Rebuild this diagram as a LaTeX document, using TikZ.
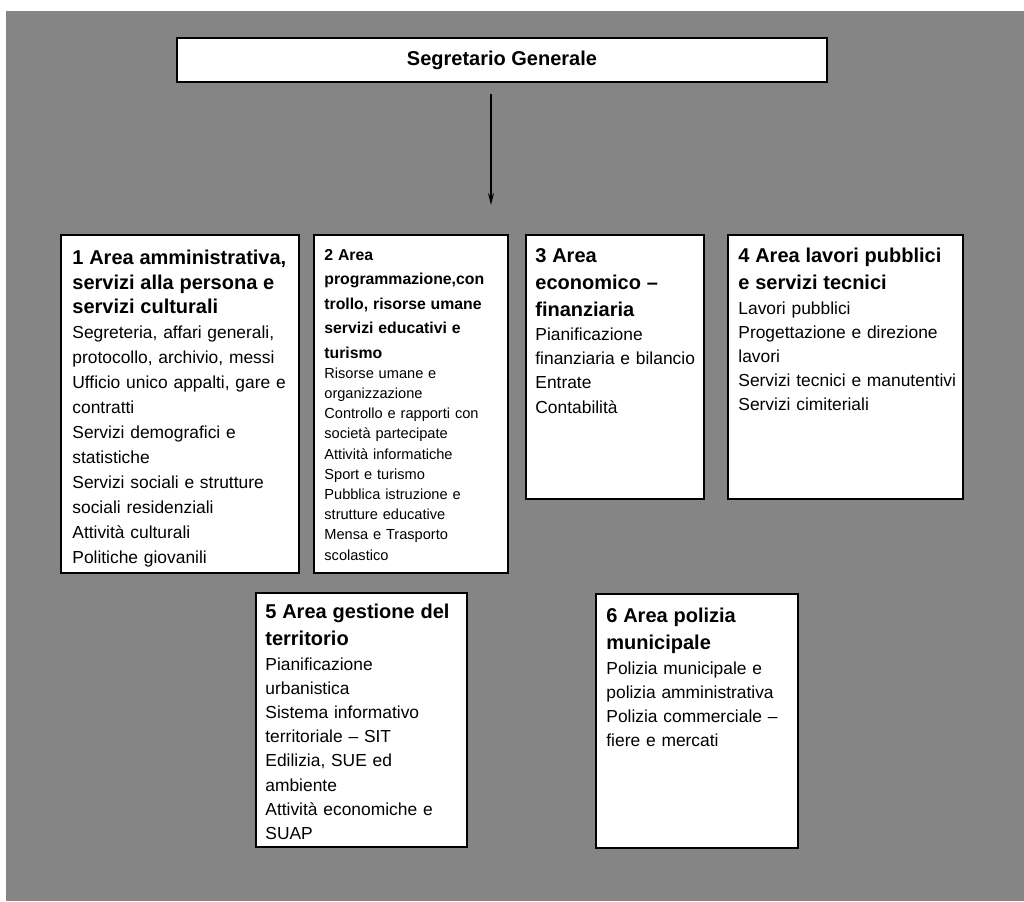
\documentclass[tikz,border=0pt]{standalone}
\usepackage{fontspec}
\setmainfont{Liberation Sans}
\usepackage{tikz}
\usetikzlibrary{positioning,arrows.meta,calc}
\definecolor{carta}{gray}{0.52}
\setlength{\parindent}{0pt}
\newcommand{\titolo}[2][13.5]{{\fontsize{10}{#1}\selectfont\bfseries #2\par}}

\begin{document}
\begin{tikzpicture}[x=0.5pt,y=-0.5pt,
  areabox/.style={draw, line width=1pt, fill=white, anchor=north west, inner sep=0pt},
  areatext/.style={anchor=north west, inner sep=0pt, align=left, text width=#1,
    font=\fontsize{8.7}{12.1}\selectfont},
  areatext/.default=110pt]
  \useasboundingbox (0,0) rectangle (1024,901);
  \fill[carta] (6,11) rectangle (1024,901);

  % vertice
  \node[draw, line width=1pt, fill=white, minimum width=325pt, minimum height=22pt,
    font=\fontsize{10}{12}\selectfont\bfseries] (sg) at (502,60) {Segretario Generale};
  \coordinate (freccia) at (491,205);
  \draw[line width=0.6pt, -{Stealth[length=6pt,width=3pt]}] ([shift={(-11,11)}]sg.south) -- (freccia);

  % aree, prima fila
  \node[areabox, minimum width=119pt, minimum height=169pt] (a1) at (60,234) {};
  \node[areatext=112pt, font=\fontsize{8.7}{12.5}\selectfont] (t1) at ([shift={(12,16)}]a1.north west) {%
    \titolo[12.2]{1 Area amministrativa,\\ servizi alla persona e\\ servizi culturali}
    Segreteria, affari generali,\\ protocollo, archivio, messi\\ Ufficio unico appalti, gare e\\ contratti\\
    Servizi demografici e\\ statistiche\\ Servizi sociali e strutture\\ sociali residenziali\\
    Attività culturali\\ Politiche giovanili};

  \node[areabox, minimum width=97pt, minimum height=169pt] (a2) at (313,234) {};
  \node[areatext=92pt, font=\fontsize{7.3}{10.1}\selectfont] (t2) at ([shift={(11,15)}]a2.north west) {%
    {\fontsize{7.9}{12.2}\selectfont\bfseries 2 Area\\ programmazione,con\\ trollo, risorse umane\\
      servizi educativi e\\ turismo\par}
    Risorse umane e\\ organizzazione\\ Controllo e rapporti con\\ società partecipate\\
    Attività informatiche\\ Sport e turismo\\ Pubblica istruzione e\\ strutture educative\\
    Mensa e Trasporto\\ scolastico};

  \node[areabox, minimum width=89pt, minimum height=132pt] (a3) at (525,234) {};
  \node[areatext=84pt] (t3) at ([shift={(10,14)}]a3.north west) {%
    \titolo{3 Area\\ economico –\\ finanziaria}
    Pianificazione\\ finanziaria e bilancio\\ Entrate\\ Contabilità};

  \node[areabox, minimum width=117.5pt, minimum height=132pt] (a4) at (727,234) {};
  \node[areatext=112pt] (t4) at ([shift={(11,14)}]a4.north west) {%
    \titolo{4 Area lavori pubblici\\ e servizi tecnici}
    Lavori pubblici\\ Progettazione e direzione\\ lavori\\ Servizi tecnici e manutentivi\\
    Servizi cimiteriali};

  % aree, seconda fila
  \node[areabox, minimum width=105.5pt, minimum height=127pt] (a5) at (255,592) {};
  \node[areatext=100pt] (t5) at ([shift={(10,12)}]a5.north west) {%
    \titolo{5 Area gestione del\\ territorio}
    Pianificazione\\ urbanistica\\ Sistema informativo\\ territoriale – SIT\\
    Edilizia, SUE ed\\ ambiente\\ Attività economiche e\\ SUAP};

  \node[areabox, minimum width=101pt, minimum height=127pt] (a6) at (595,593) {};
  \node[areatext=96pt] (t6) at ([shift={(11,15)}]a6.north west) {%
    \titolo{6 Area polizia\\ municipale}
    Polizia municipale e\\ polizia amministrativa\\ Polizia commerciale –\\ fiere e mercati};
\end{tikzpicture}
\end{document}
